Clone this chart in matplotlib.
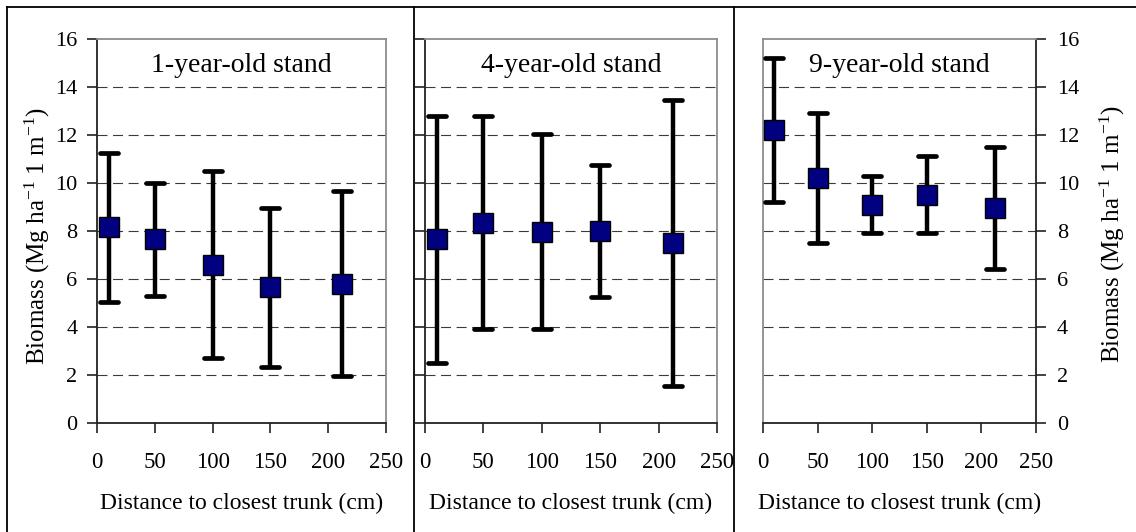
import matplotlib
matplotlib.use("Agg")
import matplotlib.pyplot as plt
from matplotlib.lines import Line2D
from matplotlib.markers import MarkerStyle

plt.rcParams['font.family'] = ['Liberation Serif', 'DejaVu Serif']
plt.rcParams['mathtext.fontset'] = 'custom'
plt.rcParams['mathtext.rm'] = 'Liberation Serif'
plt.rcParams['mathtext.it'] = 'Liberation Serif:italic'

# distance classes (cm) and biomass mean / error half-width for each stand age
distance = [10, 50, 100, 150, 212]

stand_titles = ['1-year-old stand', '4-year-old stand', '9-year-old stand']

biomass_1yr = [8.15, 7.65, 6.6, 5.65, 5.8]
error_1yr = [3.1, 2.35, 3.9, 3.3, 3.85]

biomass_4yr = [7.65, 8.35, 7.97, 8.0, 7.5]
error_4yr = [5.15, 4.45, 4.07, 2.75, 5.95]

biomass_9yr = [12.2, 10.2, 9.1, 9.52, 8.95]
error_9yr = [3.0, 2.7, 1.18, 1.6, 2.55]

x_ticks = [0, 50, 100, 150, 200, 250]
y_ticks = [0, 2, 4, 6, 8, 10, 12, 14, 16]

ylabel = r'Biomass (Mg ha$^{-1}$ 1 m$^{-1}$)'
xlabel = 'Distance to closest trunk (cm)'

W, H = 1136, 532
fig = plt.figure(figsize=(W / 100, H / 100), dpi=100)


def px_box(x0, x1, top, bottom):
    return [x0 / W, (H - bottom) / H, (x1 - x0) / W, (bottom - top) / H]


axes = [
    fig.add_axes(px_box(97, 386, 39, 423)),
    fig.add_axes(px_box(425, 717, 39, 423)),
    fig.add_axes(px_box(763, 1036, 39, 423)),
]
series = [(biomass_1yr, error_1yr), (biomass_4yr, error_4yr), (biomass_9yr, error_9yr)]

dark = '#222222'
light = '#8c8c8c'

for i, (ax, (mean, err), title) in enumerate(zip(axes, series, stand_titles)):
    ax.set_xlim(x_ticks[0], x_ticks[-1])
    ax.set_ylim(y_ticks[0], y_ticks[-1])
    ax.set_xticks(x_ticks)
    ax.set_yticks(y_ticks)

    # dashed horizontal grid, skipping the frame edges
    for yv in y_ticks[1:-1]:
        ax.axhline(yv, color='#3a3a3a', lw=0.8, ls=(0, (9, 5)), zorder=1)

    _, caps, bars = ax.errorbar(distance, mean, yerr=err, fmt='none', ecolor='black',
                                elinewidth=3.2, capsize=6.5, capthick=3.4, zorder=3)
    for c in caps:
        c.set_marker(MarkerStyle('_', capstyle='round'))
    for b in bars:
        b.set_capstyle('butt')
    ax.plot(distance, mean, ls='none', marker='s', markersize=14.5,
            markerfacecolor='#000080', markeredgecolor='black', markeredgewidth=1.0,
            zorder=4)

    ax.text(0.5 * (x_ticks[0] + x_ticks[-1]), 14.9, title, ha='center', va='center',
            fontsize=20)

    for sp in ax.spines.values():
        sp.set_linewidth(1.3)
        sp.set_color(light)
    ax.spines['bottom'].set_color(dark)

    ax.tick_params(axis='x', direction='out', length=7, width=1.2, color=dark,
                   labelsize=16.5, pad=14)
    if i == 2:
        ax.spines['right'].set_color(dark)
        ax.yaxis.tick_right()
        ax.tick_params(axis='y', direction='out', length=7, width=1.2, color=dark,
                       labelsize=16, pad=8)
    else:
        ax.spines['left'].set_color(dark)
        ax.tick_params(axis='y', direction='out', length=7, width=1.2, color=dark,
                       labelsize=16, pad=7, labelleft=(i == 0))

    ax.text(0.5, -(503 - 423) / 384, xlabel, transform=ax.transAxes,
            ha='center', va='center', fontsize=17)

fig.text(37 / W, 1 - 236 / H, ylabel, rotation=90, ha='center', va='center', fontsize=18)
fig.text(1112 / W, 1 - 234 / H, ylabel, rotation=90, ha='center', va='center', fontsize=18)

# outer panel boxes
for xb in [7, 414, 734]:
    fig.add_artist(Line2D([xb / W, xb / W], [1 - 7 / H, 0], color='black', lw=1.3,
                          transform=fig.transFigure))
fig.add_artist(Line2D([7 / W, 1], [1 - 7 / H, 1 - 7 / H], color='black', lw=1.3,
                      transform=fig.transFigure))

fig.savefig('out.png', dpi=100)
